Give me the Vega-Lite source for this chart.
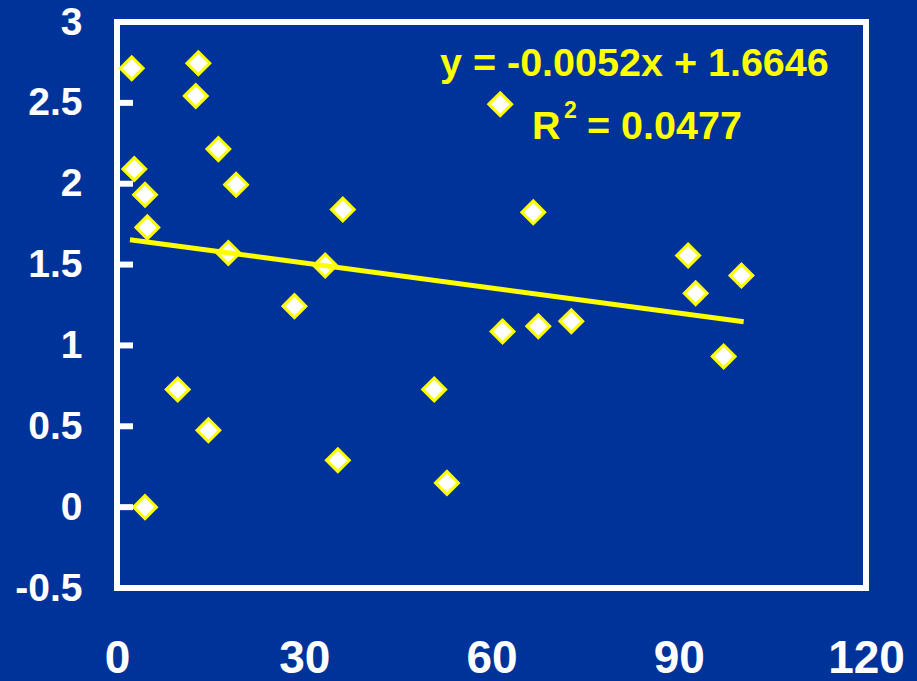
{
  "$schema": "https://vega.github.io/schema/vega-lite/v6.json",
  "width": 749,
  "height": 566,
  "autosize": {"type": "none"},
  "padding": {"left": 117, "top": 22, "right": 51, "bottom": 93},
  "background": "#003399",
  "config": {
    "view": {"stroke": "#ffffff", "strokeWidth": 6},
    "font": "Liberation Sans"
  },
  "layer": [
    {
      "data": {
        "values": [
          {"x": 2.36, "y": 2.714},
          {"x": 13.03, "y": 2.745},
          {"x": 12.62, "y": 2.543},
          {"x": 16.24, "y": 2.214},
          {"x": 2.77, "y": 2.091},
          {"x": 19.08, "y": 1.994},
          {"x": 4.49, "y": 1.932},
          {"x": 4.86, "y": 1.73},
          {"x": 17.84, "y": 1.572},
          {"x": 9.73, "y": 0.728},
          {"x": 14.64, "y": 0.475},
          {"x": 4.49, "y": 0.0},
          {"x": 36.18, "y": 1.84},
          {"x": 66.69, "y": 1.823},
          {"x": 33.35, "y": 1.494},
          {"x": 28.43, "y": 1.243},
          {"x": 61.77, "y": 1.086},
          {"x": 67.5, "y": 1.119},
          {"x": 72.79, "y": 1.15},
          {"x": 50.82, "y": 0.728},
          {"x": 35.38, "y": 0.29},
          {"x": 52.86, "y": 0.15},
          {"x": 91.5, "y": 1.556},
          {"x": 100.04, "y": 1.432},
          {"x": 92.71, "y": 1.323},
          {"x": 97.2, "y": 0.932},
          {"x": 61.4, "y": 2.492}
        ]
      },
      "mark": {
        "type": "point",
        "shape": "diamond",
        "filled": true,
        "fill": "#ffffff",
        "stroke": "#ffff00",
        "strokeWidth": 3,
        "size": 520,
        "opacity": 1
      },
      "encoding": {
        "x": {
          "field": "x",
          "type": "quantitative",
          "scale": {"domain": [0, 120], "nice": false, "zero": false},
          "axis": {
            "values": [0, 30, 60, 90, 120],
            "title": null,
            "domain": false,
            "ticks": false,
            "grid": false,
            "labelColor": "#ffffff",
            "labelFont": "Liberation Sans",
            "labelFontSize": 46,
            "labelFontWeight": "bold",
            "labelPadding": 84,
            "labelBaseline": "alphabetic",
            "labelFlush": false,
            "labelOverlap": false
          }
        },
        "y": {
          "field": "y",
          "type": "quantitative",
          "scale": {"domain": [-0.5, 3], "nice": false, "zero": false},
          "axis": {
            "values": [-0.5, 0, 0.5, 1, 1.5, 2, 2.5, 3],
            "title": null,
            "domain": false,
            "grid": false,
            "ticks": false,
            "labelColor": "#ffffff",
            "labelFont": "Liberation Sans",
            "labelFontSize": 39,
            "labelFontWeight": "bold",
            "labelPadding": 35,
            "labelBaseline": "middle",
            "labelExpr": "'' + datum.value",
            "labelFlush": false,
            "labelOverlap": false
          }
        }
      }
    },
    {
      "data": {"values": [{"y": -0.5}, {"y": 0}, {"y": 0.5}, {"y": 1}, {"y": 1.5}, {"y": 2}, {"y": 2.5}, {"y": 3}]},
      "mark": {"type": "tick", "color": "#ffffff", "thickness": 6, "size": 16, "orient": "horizontal", "opacity": 1},
      "encoding": {
        "x": {"datum": 1.28, "type": "quantitative"},
        "y": {"field": "y", "type": "quantitative"}
      }
    },
    {
      "data": {"values": [{"x": 2.08, "y": 1.654}, {"x": 100.4, "y": 1.147}]},
      "mark": {"type": "line", "color": "#ffff00", "strokeWidth": 5},
      "encoding": {
        "x": {"field": "x", "type": "quantitative"},
        "y": {"field": "y", "type": "quantitative"}
      }
    },
    {
      "data": {"values": [{"label": "y = -0.0052x + 1.6646", "x": 82.89, "y": 2.667}]},
      "mark": {"type": "text", "align": "center", "baseline": "alphabetic", "font": "Liberation Sans", "fontWeight": "bold", "fontSize": 39.5, "color": "#ffff00"},
      "encoding": {
        "x": {"field": "x", "type": "quantitative"},
        "y": {"field": "y", "type": "quantitative"},
        "text": {"field": "label"}
      }
    },
    {
      "data": {"values": [{"label": "R", "x": 66.49, "y": 2.278}, {"label": "= 0.0477", "x": 75.3, "y": 2.278}]},
      "mark": {"type": "text", "align": "left", "baseline": "alphabetic", "font": "Liberation Sans", "fontWeight": "bold", "fontSize": 39.5, "color": "#ffff00"},
      "encoding": {
        "x": {"field": "x", "type": "quantitative"},
        "y": {"field": "y", "type": "quantitative"},
        "text": {"field": "label"}
      }
    },
    {
      "data": {"values": [{"label": "2", "x": 72.63, "y": 2.407}]},
      "mark": {"type": "text", "align": "center", "baseline": "alphabetic", "font": "Liberation Sans", "fontWeight": "bold", "fontSize": 23, "color": "#ffff00"},
      "encoding": {
        "x": {"field": "x", "type": "quantitative"},
        "y": {"field": "y", "type": "quantitative"},
        "text": {"field": "label"}
      }
    }
  ]
}
